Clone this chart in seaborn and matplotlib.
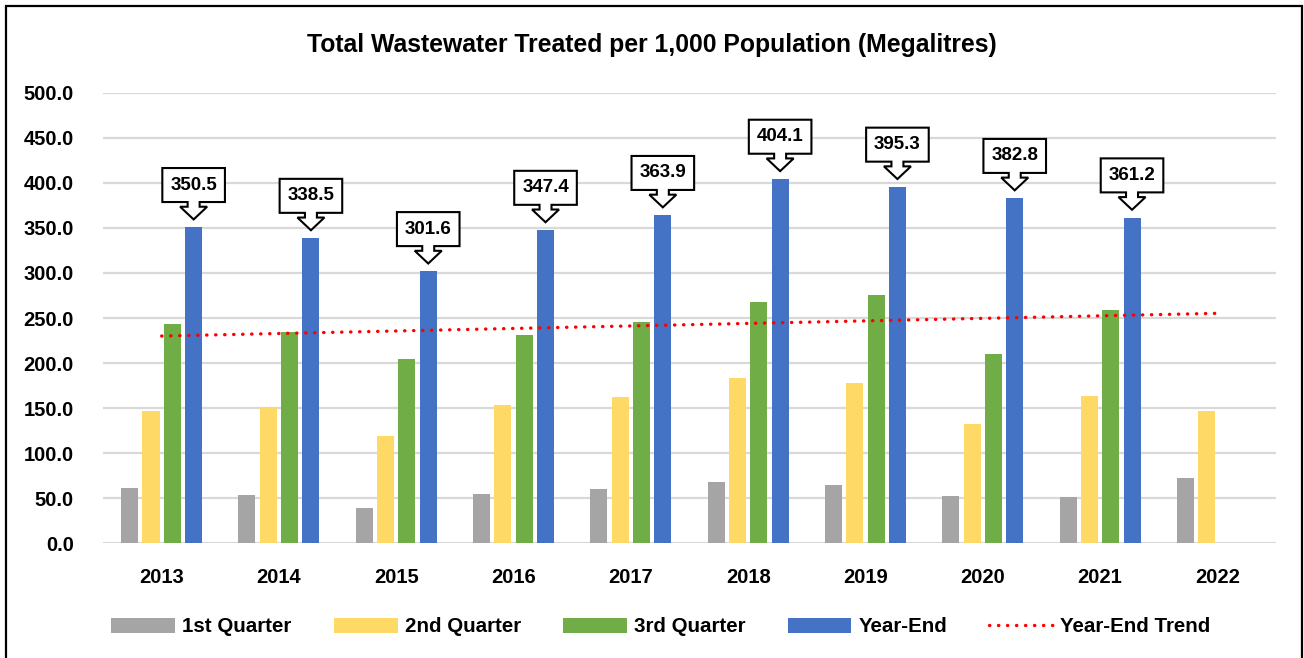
import numpy as np
import pandas as pd
import seaborn as sns
import matplotlib.pyplot as plt
from matplotlib.patches import Polygon, Rectangle
from matplotlib.transforms import IdentityTransform

# values
years = ['2013', '2014', '2015', '2016', '2017', '2018', '2019', '2020', '2021', '2022']
q1 = [61.4, 53.6, 38.8, 55.1, 59.9, 68.4, 64.3, 52.5, 51.0, 72.1]
q2 = [147.2, 151.3, 118.7, 153.5, 162.4, 183.8, 178.3, 132.0, 163.5, 147.2]
q3 = [243.0, 234.8, 204.5, 230.8, 245.9, 267.8, 275.1, 210.1, 259.2, np.nan]
year_end = [350.5, 338.5, 301.6, 347.4, 363.9, 404.1, 395.3, 382.8, 361.2, np.nan]
trend_years = ['2013', '2022']
trend_vals = [230.0, 255.2]

series = ['1st Quarter', '2nd Quarter', '3rd Quarter', 'Year-End']
colors = ['#A5A5A5', '#FFD966', '#70AD47', '#4472C4']

FONT = ['Liberation Sans', 'DejaVu Sans']


def main():
    sns.set_theme(style='white')
    plt.rcParams['font.family'] = FONT
    plt.rcParams['font.weight'] = 'bold'
    plt.rcParams['text.color'] = 'black'

    df = pd.DataFrame({
        'Year': years * 4,
        'Series': sum([[s] * len(years) for s in series], []),
        'Value': q1 + q2 + q3 + year_end,
    })

    W, H = 1304, 658
    fig = plt.figure(figsize=(W / 100, H / 100), dpi=100)
    ax = fig.add_axes([103 / W, 1 - 543.3 / H, (1276 - 103) / W, (543.3 - 92.7) / H])

    sns.barplot(data=df, x='Year', y='Value', hue='Series', hue_order=series,
                palette=colors, width=0.727, gap=0.2, dodge=True, ax=ax,
                linewidth=0, saturation=1, legend=True)

    # trend line
    tx = [years.index(y) for y in trend_years]
    ax.plot(tx, trend_vals, color='#FF0000', linewidth=2.4,
            linestyle=(0, (0.1, 2.6)), dash_capstyle='round',
            label='Year-End Trend', zorder=3)

    ax.set_ylim(0, 500)
    ax.set_xlim(-0.5, len(years) - 0.5)
    ax.set_yticks(np.arange(0, 501, 50))
    ax.set_yticklabels([f'{v:.1f}' for v in np.arange(0, 501, 50)])
    ax.yaxis.grid(True, color='#D9D9D9', linewidth=1.6)
    ax.set_axisbelow(True)
    for s in ax.spines.values():
        s.set_visible(False)
    ax.tick_params(axis='both', length=0, labelsize=14.5, labelcolor='black')
    ax.tick_params(axis='x', pad=18)
    ax.tick_params(axis='y', pad=21)
    for lab in ax.get_xticklabels() + ax.get_yticklabels():
        lab.set_fontweight('bold')
    ax.set_xlabel('')
    ax.set_ylabel('')

    # legend across the bottom
    handles, labels = ax.get_legend_handles_labels()
    ax.get_legend().remove()
    leg = fig.legend(handles, labels, loc='center', bbox_to_anchor=(661 / W, 1 - 627 / H),
                     ncol=5, frameon=False,
                     prop={'family': FONT, 'weight': 'bold', 'size': 14.8},
                     handlelength=3.1, handleheight=0.7, handletextpad=0.35,
                     columnspacing=2.05)
    for t in leg.get_texts():
        t.set_color('black')

    # title
    fig.text(0.5, 1 - 45 / H, 'Total Wastewater Treated per 1,000 Population (Megalitres)',
             ha='center', va='center', fontsize=17.8, fontweight='bold', family=FONT,
             color='black')

    # callout boxes above the year-end bars
    ye_bars = list(ax.containers[3])
    for bar, v in zip(ye_bars, [v for v in year_end if not np.isnan(v)]):
        cx = bar.get_x() + bar.get_width() / 2
        px, py = ax.transData.transform((cx, v))
        py += 8
        bw, bh = 31.3, 34
        pts = [(0, 0), (13.5, 12.7), (6, 12.7), (6, 17.4), (bw, 17.4), (bw, 17.4 + bh),
               (-bw, 17.4 + bh), (-bw, 17.4), (-6, 17.4), (-6, 12.7), (-13.5, 12.7)]
        poly = Polygon([(px + a, py + b) for a, b in pts], closed=True,
                       facecolor='white', edgecolor='black', linewidth=1.5,
                       transform=IdentityTransform(), zorder=5)
        fig.add_artist(poly)
        fig.text(px / W, (py + 17.4 + bh / 2) / H, f'{v:.1f}', ha='center', va='center',
                 fontsize=13.5, fontweight='bold', family=FONT, color='black', zorder=6)

    # outer frame
    fig.add_artist(Rectangle((6 / W, -0.05), (1302 - 6) / W, 1.05 - 6 / H, fill=False,
                             edgecolor='black', linewidth=1.6, transform=fig.transFigure))

    fig.savefig('out.png', dpi=100)


if __name__ == '__main__':
    main()
